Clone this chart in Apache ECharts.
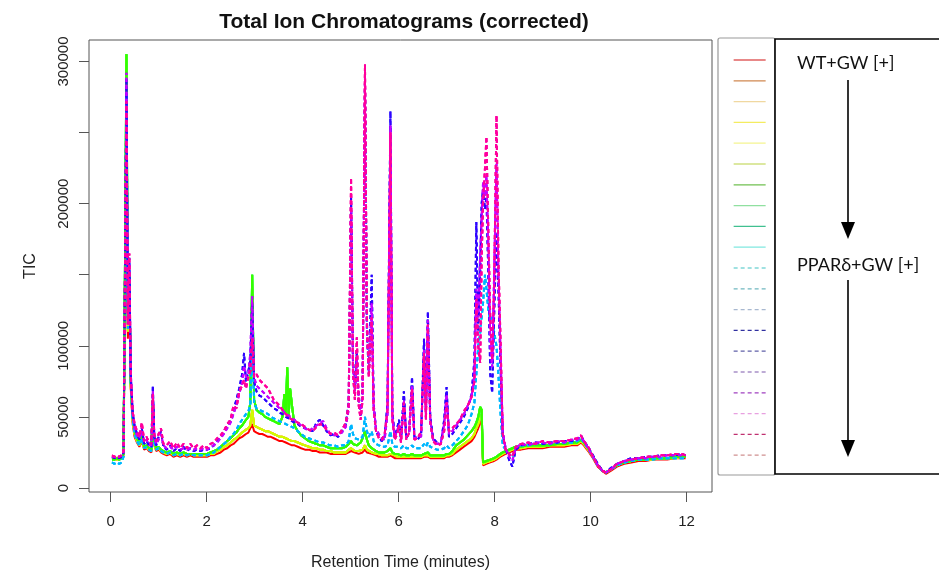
<!DOCTYPE html>
<html>
<head>
<meta charset="utf-8">
<script src="https://cdn.jsdelivr.net/npm/echarts@6/dist/echarts.min.js"></script>
<style>
html,body{margin:0;padding:0;background:#fff;}
#chart{width:939px;height:576px;}
</style>
</head>
<body>
<div id="chart"></div>
<script>
// Retention time (minutes)
const rt = [0.03,0.08,0.13,0.18,0.23,0.27,0.30,0.33,0.36,0.39,
 0.42,0.46,0.50,0.55,0.60,0.65,0.70,0.75,0.80,0.85,
 0.88,0.91,0.95,1.00,1.05,1.10,1.17,1.24,1.31,1.38,
 1.45,1.52,1.59,1.66,1.73,1.80,1.87,1.94,2.01,2.08,
 2.15,2.22,2.29,2.36,2.43,2.50,2.56,2.62,2.68,2.74,
 2.78,2.82,2.87,2.91,2.95,2.99,3.04,3.10,3.16,3.22,
 3.28,3.34,3.40,3.46,3.52,3.58,3.62,3.65,3.68,3.71,
 3.74,3.78,3.83,3.90,3.97,4.05,4.13,4.21,4.29,4.36,
 4.43,4.50,4.58,4.66,4.74,4.82,4.90,4.96,5.01,5.05,
 5.09,5.13,5.17,5.21,5.25,5.30,5.34,5.38,5.44,5.48,
 5.53,5.59,5.65,5.71,5.77,5.83,5.87,5.92,5.97,6.01,
 6.05,6.11,6.16,6.22,6.28,6.33,6.40,6.47,6.53,6.57,
 6.61,6.66,6.72,6.80,6.88,6.95,7.00,7.05,7.12,7.20,
 7.28,7.36,7.44,7.52,7.58,7.62,7.66,7.70,7.73,7.76,
 7.80,7.83,7.87,7.91,7.95,7.99,8.04,8.08,8.12,8.17,
 8.23,8.30,8.37,8.44,8.55,8.70,8.85,9.00,9.15,9.30,
 9.45,9.60,9.72,9.80,9.86,9.95,10.05,10.15,10.25,10.32,
 10.42,10.55,10.70,10.85,11.00,11.15,11.30,11.45,11.60,11.75,
 11.90,11.98];

// TIC values in thousands
const wtRed = [21,20,21,20,21,23,140,262,105,140,
 70,45,36,32,29,33,27,28,26,25,
 55,30,26,27,25,24,23,24,22,23,
 22,23,22,23,22,22,22,22,22,23,
 23,24,25,27,28,30,31,33,35,36,
 37,38,39,40,45,40,39,38,38,37,
 36,36,35,34,33,33,32,32,32,31,
 31,30,30,29,28,27,27,26,26,25,
 25,25,24,24,24,24,24,25,26,25,
 25,24,24,24,25,27,25,24,24,23,
 23,22,22,22,22,23,22,21,21,21,
 21,21,21,21,21,21,21,21,22,21,
 22,21,21,21,21,21,22,22,23,25,
 27,29,31,33,36,39,42,46,48,16,
 16,17,17,18,18,19,20,21,22,23,
 24,25,26,27,27,28,28,28,29,29,
 29,30,30,32,30,26,21,15,12,10,
 12,15,17,18,19,19,20,20,20,21,
 21,21];

const wtYellow = [21,21,20,21,21,24,150,270,110,145,
 72,47,38,33,30,34,28,29,27,26,
 58,31,27,28,26,25,24,25,23,24,
 23,24,23,24,23,23,23,23,23,24,
 24,26,27,29,30,32,34,35,37,39,
 40,41,42,44,55,44,43,42,41,40,
 40,39,38,37,36,36,35,35,35,34,
 34,33,33,32,31,30,29,28,28,27,
 27,26,26,25,25,25,25,27,28,27,
 26,26,26,26,27,30,27,26,25,25,
 24,24,23,23,23,24,23,23,22,22,
 22,22,22,22,22,22,22,22,23,22,
 23,22,22,22,22,22,23,23,24,27,
 29,31,33,35,38,42,45,50,52,17,
 17,18,18,19,19,20,21,22,23,24,
 25,26,27,28,28,29,29,29,30,30,
 30,31,31,33,31,27,22,16,12,11,
 13,16,18,19,20,20,20,21,21,21,
 22,22];

const wtGreen = [20,20,21,20,21,24,160,305,120,150,
 75,50,40,35,31,36,29,30,28,27,
 62,33,28,29,27,26,25,26,24,25,
 24,25,24,24,24,24,24,24,24,25,
 26,27,29,31,33,35,37,39,42,44,
 46,48,50,60,150,62,55,53,52,50,
 49,48,47,46,45,50,66,52,85,50,
 70,58,44,40,37,35,33,32,31,30,
 30,29,28,28,28,28,29,31,33,31,
 30,30,29,32,35,40,34,30,28,27,
 26,25,25,25,26,28,25,24,24,24,
 23,24,23,23,24,23,23,23,24,23,
 25,23,23,23,23,23,24,24,26,30,
 32,34,37,40,43,46,50,57,55,18,
 18,19,19,20,20,21,22,23,24,25,
 26,27,28,29,29,30,30,30,30,31,
 31,32,32,34,32,28,22,16,12,11,
 13,16,18,19,20,20,21,21,21,22,
 22,22];

const ppCyan = [18,17,18,17,18,22,145,278,112,148,
 74,48,38,33,30,35,28,29,27,26,
 60,32,27,28,26,25,24,25,23,24,
 23,24,23,24,23,23,23,23,23,24,
 25,27,29,31,33,36,38,41,45,48,
 50,52,54,58,110,60,56,55,54,53,
 52,50,49,48,47,46,46,45,45,44,
 44,43,42,40,38,36,35,34,33,32,
 32,31,30,30,29,30,30,33,45,38,
 35,36,34,33,36,50,40,36,40,33,
 31,30,29,29,30,40,31,29,29,30,
 28,30,28,28,30,28,28,28,31,29,
 32,29,28,27,27,28,30,28,30,33,
 36,40,44,52,60,80,100,109,120,130,
 150,140,125,118,120,110,100,80,55,30,
 27,24,22,28,30,30,31,31,31,32,
 32,32,33,35,32,28,22,16,12,11,
 13,16,18,19,20,20,20,21,21,21,
 21,21];

const ppBlue = [22,21,22,21,22,25,150,288,125,162,
 80,53,44,38,34,42,31,33,30,29,
 72,36,30,36,40,29,27,30,26,28,
 26,29,26,28,26,27,26,27,27,28,
 30,33,36,40,44,48,55,62,70,80,
 95,75,82,90,130,75,68,65,64,62,
 60,58,56,55,53,52,51,50,50,49,
 48,47,46,45,43,42,41,40,46,48,
 44,40,37,38,36,40,45,60,205,90,
 70,95,60,50,70,285,110,80,150,60,
 40,36,33,36,60,265,55,35,42,48,
 33,68,35,40,78,36,34,38,105,55,
 124,50,35,32,31,48,71,36,38,42,
 46,50,56,66,90,187,110,150,200,210,
 196,205,150,80,67,120,180,140,90,38,
 28,20,15,27,30,31,32,31,32,32,
 33,33,34,37,33,29,23,17,12,11,
 14,17,19,21,21,22,22,23,23,23,
 24,23];

const ppPurple = [22,22,21,22,23,25,155,292,118,158,
 82,52,42,37,35,40,32,34,30,30,
 68,36,31,34,38,30,28,29,27,29,
 27,28,27,28,27,28,27,28,27,29,
 30,32,35,38,42,46,52,58,66,74,
 86,78,80,95,135,78,72,70,68,66,
 64,62,60,58,56,55,54,52,52,51,
 50,49,48,46,44,42,40,42,44,46,
 47,42,38,37,38,39,43,55,195,85,
 68,90,62,52,66,290,118,82,130,58,
 42,38,35,34,52,255,50,36,40,45,
 34,62,36,38,72,35,36,36,98,50,
 118,48,34,31,32,45,66,38,40,44,
 48,52,58,64,80,140,120,165,190,215,
 205,220,170,100,85,150,228,150,100,40,
 28,22,19,28,31,30,32,32,31,33,
 32,34,34,36,33,28,22,16,12,11,
 13,17,19,20,21,21,22,22,23,23,
 23,23];

const ppPink = [23,22,23,22,23,26,150,272,115,165,
 78,54,45,40,36,46,33,36,32,31,
 66,38,33,38,42,31,30,33,28,32,
 28,31,28,31,28,30,28,30,28,31,
 32,35,37,40,45,48,58,56,68,72,
 76,70,78,82,105,78,80,76,74,72,
 70,66,62,60,58,55,53,52,51,50,
 49,48,47,46,45,43,41,40,43,45,
 44,41,38,39,37,41,46,58,218,80,
 62,106,58,48,62,298,116,78,120,55,
 40,35,34,38,55,250,48,34,38,44,
 32,60,34,39,70,34,35,40,95,48,
 115,46,33,30,31,40,60,40,42,45,
 48,54,58,64,75,133,100,88,160,200,
 225,247,180,120,90,140,262,160,109,38,
 27,24,22,29,31,32,31,33,32,33,
 33,34,35,37,33,29,22,16,12,11,
 13,17,19,20,21,22,22,23,23,24,
 24,23];

const sampleNames = [
 'WT+GW 1','WT+GW 2','WT+GW 3','WT+GW 4','WT+GW 5',
 'WT+GW 6','WT+GW 7','WT+GW 8','WT+GW 9','WT+GW 10',
 'PPARδ+GW 1','PPARδ+GW 2','PPARδ+GW 3','PPARδ+GW 4','PPARδ+GW 5',
 'PPARδ+GW 6','PPARδ+GW 7','PPARδ+GW 8','PPARδ+GW 9','PPARδ+GW 10'];
const sampleProfiles = [wtRed, wtYellow, wtYellow, wtYellow, wtYellow,
 wtGreen, wtGreen, wtGreen, wtGreen, wtGreen,
 ppCyan, ppCyan, ppCyan, ppBlue, ppBlue,
 ppPurple, ppPurple, ppPink, ppPink, ppPink];
const lineColors = ['#FF0000','#FF4D00','#FF9900','#FFE500','#CCFF00',
 '#80FF00','#33FF00','#00FF19','#00FF66','#00FFB2',
 '#00FFFF','#00B2FF','#0066FF','#0019FF','#3300FF',
 '#7F00FF','#CC00FF','#FF00E5','#FF0099','#FF004C'];
const legendColors = ['#e06060','#d08850','#f0d8a0','#f4ec60','#f4f490',
 '#d0e080','#70c050','#90e0a0','#40c090','#80e8e0',
 '#80d8d8','#70b8c0','#a8b8d0','#3030a0','#6060a8',
 '#a890c8','#a040c0','#e8a0e0','#c03070','#d09090'];
// drawing order (last drawn is on top)
const drawOrder = [0,1,2,3,4, 9,8,7,5,6, 12,10,11, 13,14, 15,16, 19,17,18];

const xTicks = [0,2,4,6,8,10,12];
const yTicks = [0,50000,100000,150000,200000,250000,300000];
const yLabels = [0,50000,100000,200000,300000];

const FONT = 'Liberation Sans, Arial, sans-serif';
const NOTE_FONT = '18px Lato, "Open Sans", sans-serif';

const series = drawOrder.map(i => ({
  name: sampleNames[i],
  type: 'line',
  symbol: 'none',
  silent: true,
  animation: false,
  lineStyle: { color: lineColors[i], width: 2, type: i < 10 ? 'solid' : [4, 3] },
  itemStyle: { color: lineColors[i] },
  data: rt.map((t, k) => [t, sampleProfiles[i][k] * 1000])
}));

const chart = echarts.init(document.getElementById('chart'), null, { renderer: 'canvas' });
chart.setOption({
  backgroundColor: '#fff',
  animation: false,
  title: {
    text: 'Total Ion Chromatograms (corrected)',
    left: 399, top: 7, textAlign: 'center',
    textStyle: { fontFamily: FONT, fontWeight: 'bold', fontSize: 21, color: '#111' }
  },
  grid: {
    left: 89, right: 227, top: 40, bottom: 84,
    show: true, borderColor: '#555', borderWidth: 1, backgroundColor: '#fff',
    outerBoundsMode: 'none', containLabel: false
  },
  xAxis: {
    type: 'value', min: -0.45, max: 12.53,
    name: 'Retention Time (minutes)', nameLocation: 'middle', nameGap: 63,
    nameTextStyle: { fontFamily: FONT, fontSize: 16, color: '#222' },
    axisLine: { show: false, onZero: false },
    splitLine: { show: false },
    axisTick: { show: true, length: 10, inside: false, customValues: xTicks, lineStyle: { color: '#555' } },
    axisLabel: { customValues: xTicks, margin: 22, fontFamily: FONT, fontSize: 15, color: '#222' }
  },
  yAxis: {
    type: 'value', min: -2800, max: 315100,
    name: 'TIC', nameLocation: 'middle', nameGap: 50, nameRotate: 90,
    nameTextStyle: { fontFamily: FONT, fontSize: 16, color: '#222' },
    axisLine: { show: false, onZero: false },
    splitLine: { show: false },
    axisTick: { show: true, length: 10, inside: false, customValues: yTicks, lineStyle: { color: '#555' } },
    axisLabel: { customValues: yLabels, rotate: 90, margin: 18, fontFamily: FONT, fontSize: 15, color: '#222',
      formatter: v => String(v) }
  },
  legend: {
    orient: 'vertical', left: 733, top: 56, z: 10, padding: 0,
    itemWidth: 32, itemHeight: 10, itemGap: 12.8,
    selectedMode: false,
    formatter: () => '',
    textStyle: { fontSize: 10, lineHeight: 10 },
    data: sampleNames.map((n, i) => ({
      name: n,
      lineStyle: { color: legendColors[i], width: 1.3, type: i < 10 ? 'solid' : [4, 3] },
      itemStyle: { color: legendColors[i], opacity: 0, borderWidth: 0 }
    }))
  },
  graphic: [
    { type: 'rect', z: 1, shape: { x: 718, y: 38, width: 57, height: 437, r: 2 },
      style: { fill: '#fff', stroke: '#999', lineWidth: 1.2 } },
    { type: 'rect', z: 2, shape: { x: 775, y: 39, width: 200, height: 435 },
      style: { fill: '#fff', stroke: '#000', lineWidth: 1.6 } },
    { type: 'text', z: 3, x: 797, y: 63,
      style: { text: 'WT+GW [+]', font: NOTE_FONT, fill: '#111', verticalAlign: 'middle' } },
    { type: 'line', z: 3, shape: { x1: 848, y1: 80, x2: 848, y2: 226 },
      style: { stroke: '#000', lineWidth: 1.6 } },
    { type: 'polygon', z: 3, shape: { points: [[841, 222], [855, 222], [848, 239]] },
      style: { fill: '#000' } },
    { type: 'text', z: 3, x: 797, y: 265,
      style: { text: 'PPARδ+GW [+]', font: NOTE_FONT, fill: '#111', verticalAlign: 'middle' } },
    { type: 'line', z: 3, shape: { x1: 848, y1: 280, x2: 848, y2: 442 },
      style: { stroke: '#000', lineWidth: 1.6 } },
    { type: 'polygon', z: 3, shape: { points: [[841, 440], [855, 440], [848, 457]] },
      style: { fill: '#000' } }
  ],
  series: series
});
</script>
</body>
</html>
